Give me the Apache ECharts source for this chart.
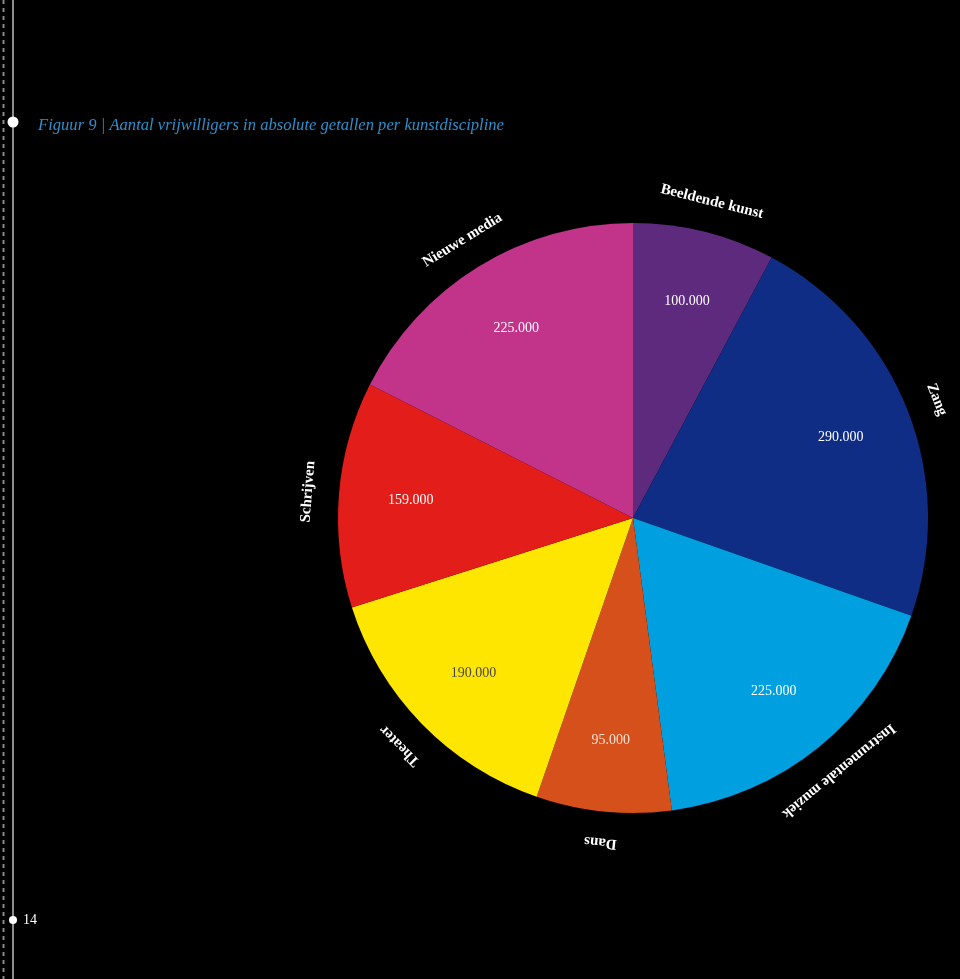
<!DOCTYPE html>
<html>
<head>
<meta charset="utf-8">
<style>
  html, body { margin: 0; padding: 0; background: #000; }
  #chart { width: 960px; height: 979px; }
</style>
<script src="https://cdn.jsdelivr.net/npm/echarts@6/dist/echarts.min.js"></script>
</head>
<body>
<div id="chart"></div>
<script>
// ---- data ----
const titleText = 'Figuur 9 | Aantal vrijwilligers in absolute getallen per kunstdiscipline';
const pageNumber = '14';
const categories = ['Beeldende kunst', 'Zang', 'Instrumentale muziek', 'Dans', 'Theater', 'Schrijven', 'Nieuwe media'];
const values = [100000, 290000, 225000, 95000, 190000, 159000, 225000];

// ---- styles ----
const sliceColors = ['#5E2A7E', '#0F2D84', '#009FE0', '#D6501B', '#FFE600', '#E21D1A', '#C2338A'];
const valueLabelColors = ['#ffffff', '#ffffff', '#ffffff', '#f8e4d4', '#4a4a4a', '#ffffff', '#ffffff'];

function fmt(v) {
  return String(v).replace(/\B(?=(\d{3})+(?!\d))/g, '.');
}

const total = values.reduce((a, b) => a + b, 0);
// mid angles (degrees, clockwise from top) derived from the data
let acc = 0;
const midAngles = values.map(v => { const m = (acc + v / 2) / total * 360; acc += v; return m; });

const center = [633, 518];
const R = 295;

const chart = echarts.init(document.getElementById('chart'), null, { renderer: 'canvas' });

chart.setOption({
  backgroundColor: '#000000',
  animation: false,
  title: {
    text: titleText,
    left: 33,
    top: 112,
    textStyle: {
      fontFamily: 'Liberation Serif',
      fontStyle: 'italic',
      fontWeight: 'normal',
      fontSize: 16.6,
      color: '#2F8FCB'
    }
  },
  graphic: [
    { type: 'line', shape: { x1: 3.5, y1: 0, x2: 3.5, y2: 979 }, style: { stroke: '#8a8a8a', lineWidth: 2, lineDash: [4, 4] } },
    { type: 'line', shape: { x1: 13, y1: 0, x2: 13, y2: 979 }, style: { stroke: '#bdbdbd', lineWidth: 1.5 } },
    { type: 'circle', shape: { cx: 13, cy: 122, r: 5.5 }, style: { fill: '#ffffff' } },
    { type: 'circle', shape: { cx: 13, cy: 920, r: 4 }, style: { fill: '#ffffff' } },
    { type: 'text', x: 23, y: 920, style: { text: pageNumber, fill: '#ffffff', font: '14px "Liberation Serif"', textVerticalAlign: 'middle' } }
  ],
  series: [
    {
      type: 'pie',
      center: center,
      radius: [0, R],
      startAngle: 90,
      clockwise: true,
      silent: true,
      label: { show: false },
      labelLine: { show: false },
      data: categories.map((c, i) => ({ name: c, value: values[i], itemStyle: { color: sliceColors[i] } }))
    },
    {
      // value labels
      type: 'pie',
      center: center,
      radius: [190, 250],
      startAngle: 90,
      clockwise: true,
      silent: true,
      itemStyle: { color: 'rgba(0,0,0,0)' },
      labelLine: { show: false },
      label: {
        show: true,
        position: 'inside',
        fontFamily: 'Liberation Serif',
        fontSize: 14,
        formatter: p => fmt(p.value)
      },
      data: categories.map((c, i) => ({ name: c, value: values[i], label: { color: valueLabelColors[i] } }))
    },
    {
      // name labels around the pie
      type: 'pie',
      center: center,
      radius: [298, 348],
      startAngle: 90,
      clockwise: true,
      silent: true,
      itemStyle: { color: 'rgba(0,0,0,0)' },
      labelLine: { show: false },
      label: {
        show: true,
        position: 'inside',
        fontFamily: 'Liberation Serif',
        fontWeight: 'bold',
        fontSize: 15,
        color: '#ffffff',
        formatter: p => p.name
      },
      data: categories.map((c, i) => ({ name: c, value: values[i], label: { rotate: -midAngles[i] } }))
    }
  ]
});
</script>
</body>
</html>
